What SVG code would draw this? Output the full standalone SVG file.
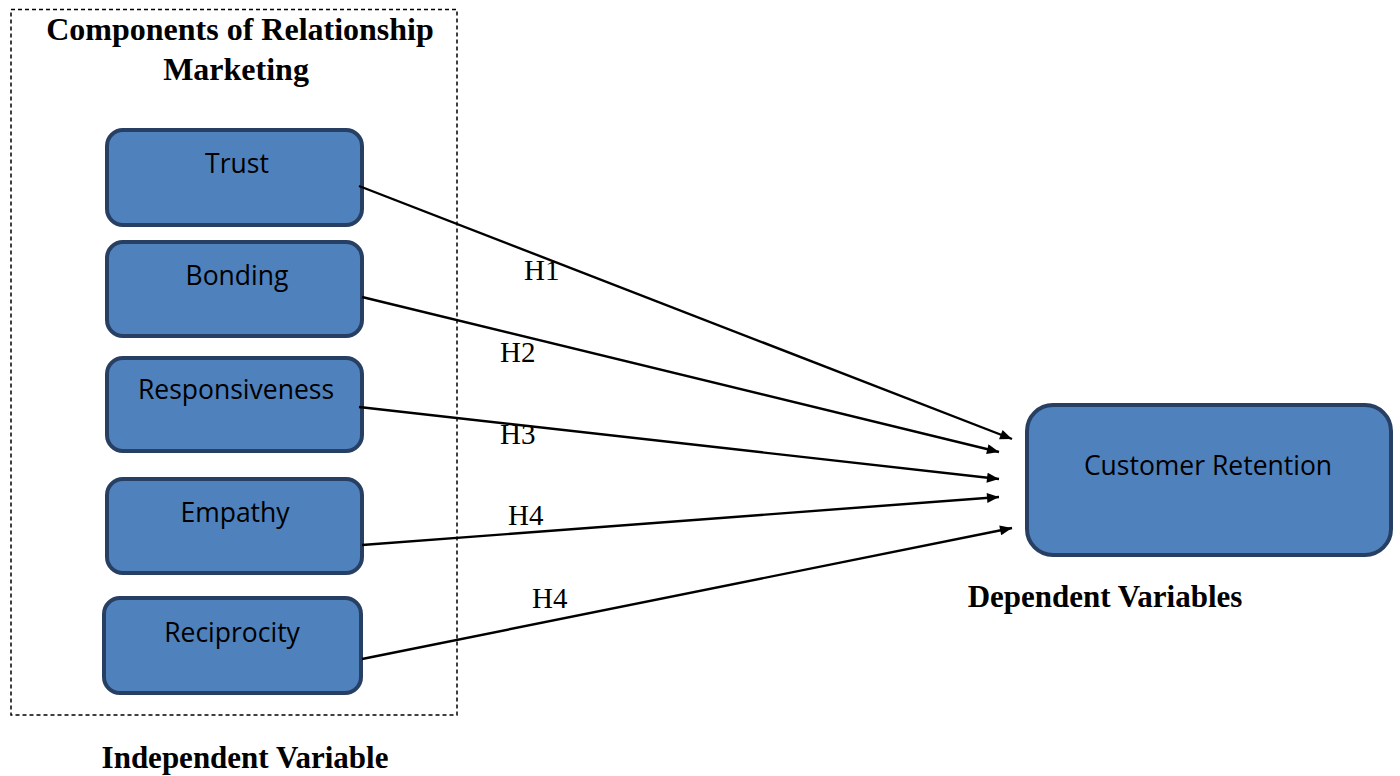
<svg xmlns="http://www.w3.org/2000/svg" width="1400" height="776" viewBox="0 0 1400 776">
<defs>
<style>
.node rect{fill:#4F81BD;stroke:#263F63;stroke-width:4}
.node text{font-family:"Open Sans","Noto Sans",sans-serif;font-size:26.5px;fill:#000;text-anchor:middle}
.conn line{stroke:#000;stroke-width:2.4}
.lbl{font-family:"Liberation Serif",serif;font-size:29px;fill:#000}
.title{font-family:"Liberation Serif",serif;font-size:31px;font-weight:bold;fill:#000;text-anchor:middle}
.big{font-size:32px}
</style>
<marker id="arr" viewBox="0 0 12 10" refX="12" refY="5" markerWidth="13" markerHeight="10" markerUnits="userSpaceOnUse" orient="auto">
<path d="M0,0 L12,5 L0,10 z" fill="#000"/>
</marker>
</defs>
<rect width="1400" height="776" fill="#fff"/>
<rect x="11" y="9.5" width="446" height="705.5" fill="none" stroke="#000" stroke-width="1.5" stroke-dasharray="4,3"/>
<text class="title big" x="240" y="40">Components  of Relationship</text>
<text class="title big" x="236" y="80">Marketing</text>
<text class="title" x="245" y="768">Independent  Variable</text>
<text class="title" x="1105" y="607">Dependent Variables</text>
<g id="trust" class="node"><rect x="107" y="130" width="255" height="95" rx="16"/><text x="237" y="173">Trust</text></g>
<g id="bonding" class="node"><rect x="107" y="242" width="255" height="94" rx="16"/><text x="237" y="285">Bonding</text></g>
<g id="responsiveness" class="node"><rect x="107" y="358" width="255" height="93" rx="16"/><text x="236" y="399">Responsiveness</text></g>
<g id="empathy" class="node"><rect x="107" y="479" width="255" height="94" rx="16"/><text x="235" y="522">Empathy</text></g>
<g id="reciprocity" class="node"><rect x="104" y="598" width="257" height="95" rx="16"/><text x="232" y="642">Reciprocity</text></g>
<g id="retention" class="node"><rect x="1027" y="405" width="364" height="150" rx="26"/><text x="1208" y="475">Customer Retention</text></g>
<g id="connectors" class="conn">
<line x1="359" y1="186" x2="1012" y2="439" marker-end="url(#arr)"/>
<line x1="362" y1="297" x2="999" y2="452" marker-end="url(#arr)"/>
<line x1="359" y1="407" x2="999" y2="479" marker-end="url(#arr)"/>
<line x1="362" y1="545" x2="999" y2="497" marker-end="url(#arr)"/>
<line x1="362" y1="659" x2="1012" y2="528" marker-end="url(#arr)"/>
</g>
<text class="lbl" x="524" y="280">H1</text>
<text class="lbl" x="500" y="362">H2</text>
<text class="lbl" x="500" y="444">H3</text>
<text class="lbl" x="508" y="525">H4</text>
<text class="lbl" x="532" y="608">H4</text>
</svg>
